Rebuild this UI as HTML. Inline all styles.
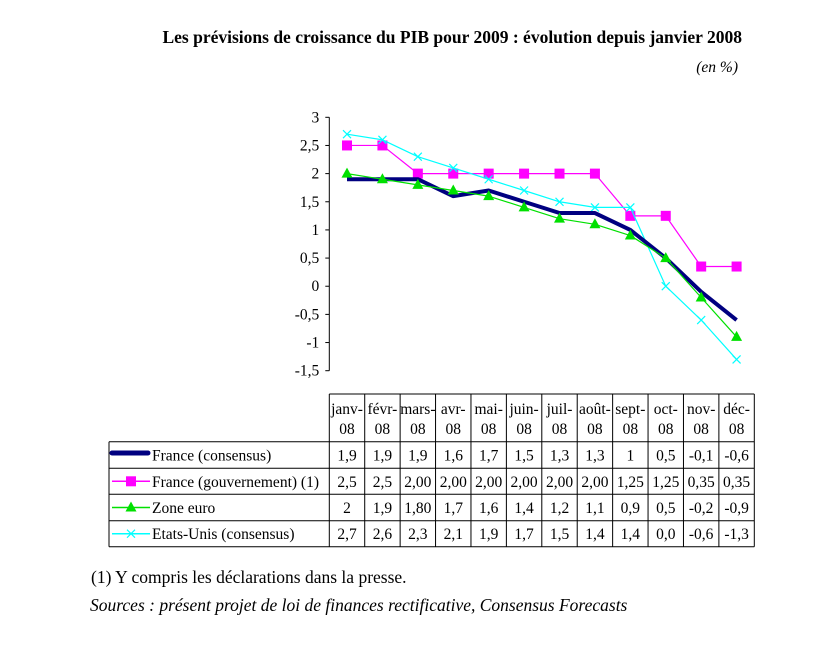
<!DOCTYPE html>
<html><head><meta charset="utf-8"><style>
body{margin:0;background:#fff;}
svg{display:block;font-family:"Liberation Serif",serif;}
</style></head><body>
<svg id="c" width="826" height="652" viewBox="0 0 826 652">
<text x="742" y="43" text-anchor="end" font-weight="bold" font-size="17.5">Les prévisions de croissance du PIB pour 2009 : évolution depuis janvier 2008</text>
<text x="738" y="72" text-anchor="end" font-style="italic" font-size="15.5">(en %)</text>
<g id="axes"></g><g id="marks"></g><g id="table"></g>
<text x="91" y="583" font-size="17.5">(1) Y compris les déclarations dans la presse.</text>
<text x="90" y="611" font-size="17.5" font-style="italic">Sources : présent projet de loi de finances rectificative, Consensus Forecasts</text>
</svg>
<script>
const categories=["janv-08","févr-08","mars-08","avr-08","mai-08","juin-08","juil-08","août-08","sept-08","oct-08","nov-08","déc-08"];
const franceConsensus=[1.9,1.9,1.9,1.6,1.7,1.5,1.3,1.3,1,0.5,-0.1,-0.6];
const franceGouv=[2.5,2.5,2,2,2,2,2,2,1.25,1.25,0.35,0.35];
const zoneEuro=[2,1.9,1.8,1.7,1.6,1.4,1.2,1.1,0.9,0.5,-0.2,-0.9];
const etatsUnis=[2.7,2.6,2.3,2.1,1.9,1.7,1.5,1.4,1.4,0,-0.6,-1.3];
const labFC=["1,9","1,9","1,9","1,6","1,7","1,5","1,3","1,3","1","0,5","-0,1","-0,6"];
const labFG=["2,5","2,5","2,00","2,00","2,00","2,00","2,00","2,00","1,25","1,25","0,35","0,35"];
const labZE=["2","1,9","1,80","1,7","1,6","1,4","1,2","1,1","0,9","0,5","-0,2","-0,9"];
const labEU=["2,7","2,6","2,3","2,1","1,9","1,7","1,5","1,4","1,4","0,0","-0,6","-1,3"];
const yTicks=[3,2.5,2,1.5,1,0.5,0,-0.5,-1,-1.5];
const yTickLabels=["3","2,5","2","1,5","1","0,5","0","-0,5","-1","-1,5"];

const NS="http://www.w3.org/2000/svg";
const X0=329.3,X1=754.3,Y3=117.3,Ym=370.7;
const cw=(X1-X0)/categories.length;
const xs=i=>X0+cw*(i+0.5);
const ys=v=>Y3+(3-v)*(Ym-Y3)/4.5;
const FS=15.5;
function mk(t,a,p){const e=document.createElementNS(NS,t);for(const k in a)e.setAttribute(k,a[k]);p.appendChild(e);return e;}
const axes=document.getElementById('axes'),marks=document.getElementById('marks'),tbl=document.getElementById('table');
let ax=mk('line',{x1:X0,x2:X0,y1:Y3,y2:Ym,stroke:'#000'},axes);


yTicks.forEach((v,i)=>{
  mk('line',{x1:X0-4,x2:X0,y1:ys(v),y2:ys(v),stroke:'#000'},axes);
  const t=mk('text',{x:X0-10,y:ys(v)+5,'text-anchor':'end','font-size':FS},axes);
  t.textContent=yTickLabels[i];
  
  
});
function series(vals,color,w,name,marker){
  const g=mk('g',{},marks);
  
  
  mk('polyline',{points:vals.map((v,i)=>xs(i)+','+ys(v)).join(' '),fill:'none',stroke:color,'stroke-width':w,'stroke-linejoin':'round'},g);
  vals.forEach((v,i)=>{const x=xs(i),y=ys(v);
    if(marker==='sq')mk('rect',{x:x-5,y:y-5,width:10,height:10,fill:color},g);
    if(marker==='tri')mk('polygon',{points:`${x},${y-6} ${x-5.5},${y+4} ${x+5.5},${y+4}`,fill:color},g);
    if(marker==='x'){mk('path',{d:`M${x-4},${y-4}L${x+4},${y+4}M${x-4},${y+4}L${x+4},${y-4}`,stroke:color,'stroke-width':1.2},g);}
  });
}
series(franceGouv,'#ff00ff',1.2,'series-france-gouvernement','sq');
series(etatsUnis,'#00ffff',1.2,'series-etats-unis','x');
series(franceConsensus,'#000080',4,'series-france-consensus','');
series(zoneEuro,'#00e000',1.2,'series-zone-euro','tri');
const T0=394,rows=[441.7,468.3,494.3,520.7,546.7],LX=109;
const L=(a,b,c,d)=>mk('line',{x1:a,y1:b,x2:c,y2:d,stroke:'#000','stroke-width':1},tbl);
L(X0,T0,X1,T0);
for(let i=0;i<=categories.length;i++)L(X0+cw*i,T0,X0+cw*i,rows[4]);
rows.forEach(y=>L(LX,y,X1,y));
L(LX,rows[0],LX,rows[4]);
categories.forEach((c,i)=>{
  const p=c.split('-');
  const t1=mk('text',{x:xs(i),y:414,'text-anchor':'middle','font-size':FS},tbl);t1.textContent=p[0]+'-';
  
  
  const t2=mk('text',{x:xs(i),y:434,'text-anchor':'middle','font-size':FS},tbl);t2.textContent=p[1];
});
const rowDefs=[["France (consensus)",labFC,'#000080','fc'],["France (gouvernement) (1)",labFG,'#ff00ff','sq'],["Zone euro",labZE,'#00e000','tri'],["Etats-Unis (consensus)",labEU,'#00ffff','x']];
rowDefs.forEach((r,k)=>{
  const y=(rows[k]+rows[k+1])/2, ty=y+5.5;
  const g=mk('g',{},tbl);
  
  
  if(r[3]==='fc')mk('line',{x1:112,x2:148,y1:y-2,y2:y-2,stroke:r[2],'stroke-width':5,'stroke-linecap':'round'},g);
  else mk('line',{x1:112,x2:150,y1:y,y2:y,stroke:r[2],'stroke-width':1.5},g);
  if(r[3]==='sq')mk('rect',{x:126,y:y-5,width:10,height:10,fill:r[2]},g);
  if(r[3]==='tri')mk('polygon',{points:`131,${y-6} 125.5,${y+4} 136.5,${y+4}`,fill:r[2]},g);
  if(r[3]==='x')mk('path',{d:`M127,${y-4}L135,${y+4}M127,${y+4}L135,${y-4}`,stroke:r[2],'stroke-width':1.2},g);
  const t=mk('text',{x:152,y:ty,'font-size':FS},g);t.textContent=r[0];
  r[1].forEach((s,i)=>{const c=mk('text',{x:xs(i),y:ty,'text-anchor':'middle','font-size':FS},tbl);c.textContent=s;
    
    });
});
</script>
</body></html>
